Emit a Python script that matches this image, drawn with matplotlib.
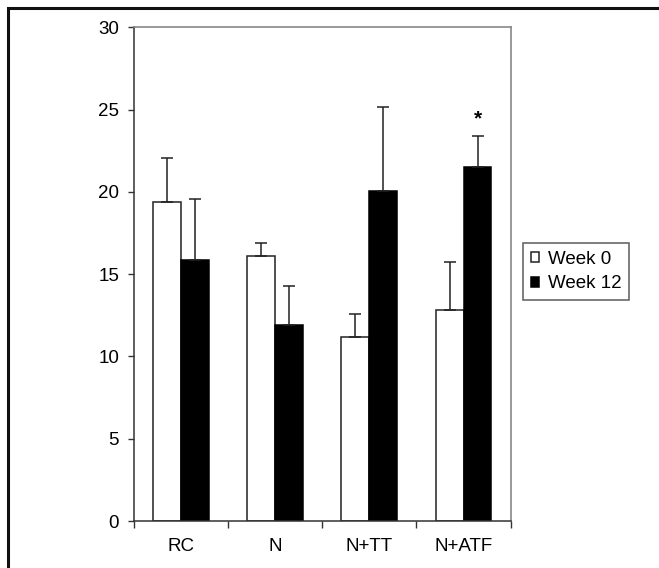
import matplotlib
matplotlib.use('Agg')
import matplotlib.pyplot as plt
from matplotlib.patches import Rectangle
import numpy as np

# Datos
categorias = ['RC', 'N', 'N+TT', 'N+ATF']
semana0 = [19.4, 16.1, 11.2, 12.85]
semana12 = [15.85, 11.9, 20.05, 21.5]
err0 = [2.65, 0.8, 1.4, 2.9]
err12 = [3.7, 2.4, 5.1, 1.9]
etiquetas = ['Week 0', 'Week 12']

plt.rcParams['font.family'] = ['Liberation Sans', 'DejaVu Sans']

fig = plt.figure(figsize=(6.59, 5.68), dpi=100)
ax = fig.add_axes([0.2029, 0.0827, 0.5721, 0.8694])

x = np.arange(len(categorias))
ancho = 0.296
kw_err = dict(ecolor='#222222', elinewidth=1.1, capsize=4.2, capthick=1.1)

ax.bar(x - ancho / 2, semana0, ancho, color='white', edgecolor='#222222',
       linewidth=1.1, label=etiquetas[0],
       yerr=[np.zeros(len(err0)), err0], error_kw=kw_err)
ax.bar(x + ancho / 2, semana12, ancho, color='black', edgecolor='black',
       linewidth=1.1, label=etiquetas[1],
       yerr=[np.zeros(len(err12)), err12], error_kw=kw_err)

# asterisco de significancia
ax.text(x[3] + ancho / 2, semana12[3] + err12[3] + 1.05, '*', ha='center',
        va='center', fontsize=15, fontweight='bold')

ax.set_xlim(-0.5, 3.5)
ax.set_ylim(0, 30)
ax.set_yticks(np.arange(0, 31, 5))
ax.set_xticks(x)
ax.set_xticklabels(categorias)
ax.set_xticks(np.arange(-0.5, 3.6, 1), minor=True)
ax.tick_params(axis='x', which='major', length=0, pad=12, labelsize=13.5)
ax.tick_params(axis='x', which='minor', length=5, width=1, color='#333333',
               direction='out')
ax.tick_params(axis='y', length=4.5, width=1, color='#333333', labelsize=13.5,
               pad=6)

for lado in ['top', 'right']:
    ax.spines[lado].set_color('#888888')
    ax.spines[lado].set_linewidth(1.2)
for lado in ['left', 'bottom']:
    ax.spines[lado].set_color('#333333')
    ax.spines[lado].set_linewidth(1.1)

leg = ax.legend(loc='upper left', bbox_to_anchor=(523 / 659, 1 - 243 / 568),
                bbox_transform=fig.transFigure, borderaxespad=0,
                fancybox=False, edgecolor='#333333', fontsize=13.5,
                handlelength=0.45, handleheight=0.45, handletextpad=0.5,
                borderpad=0.4, labelspacing=0.42)
leg.get_frame().set_linewidth(1.1)

# marco exterior (solo se ven los bordes izquierdo y superior)
marco = Rectangle((8 / 659, -0.5), 2.0, 1.5 - 8.5 / 568,
                  transform=fig.transFigure, fill=False, edgecolor='#111111',
                  linewidth=2.2, clip_on=False)
fig.patches.append(marco)

fig.savefig('out.png', dpi=100)
